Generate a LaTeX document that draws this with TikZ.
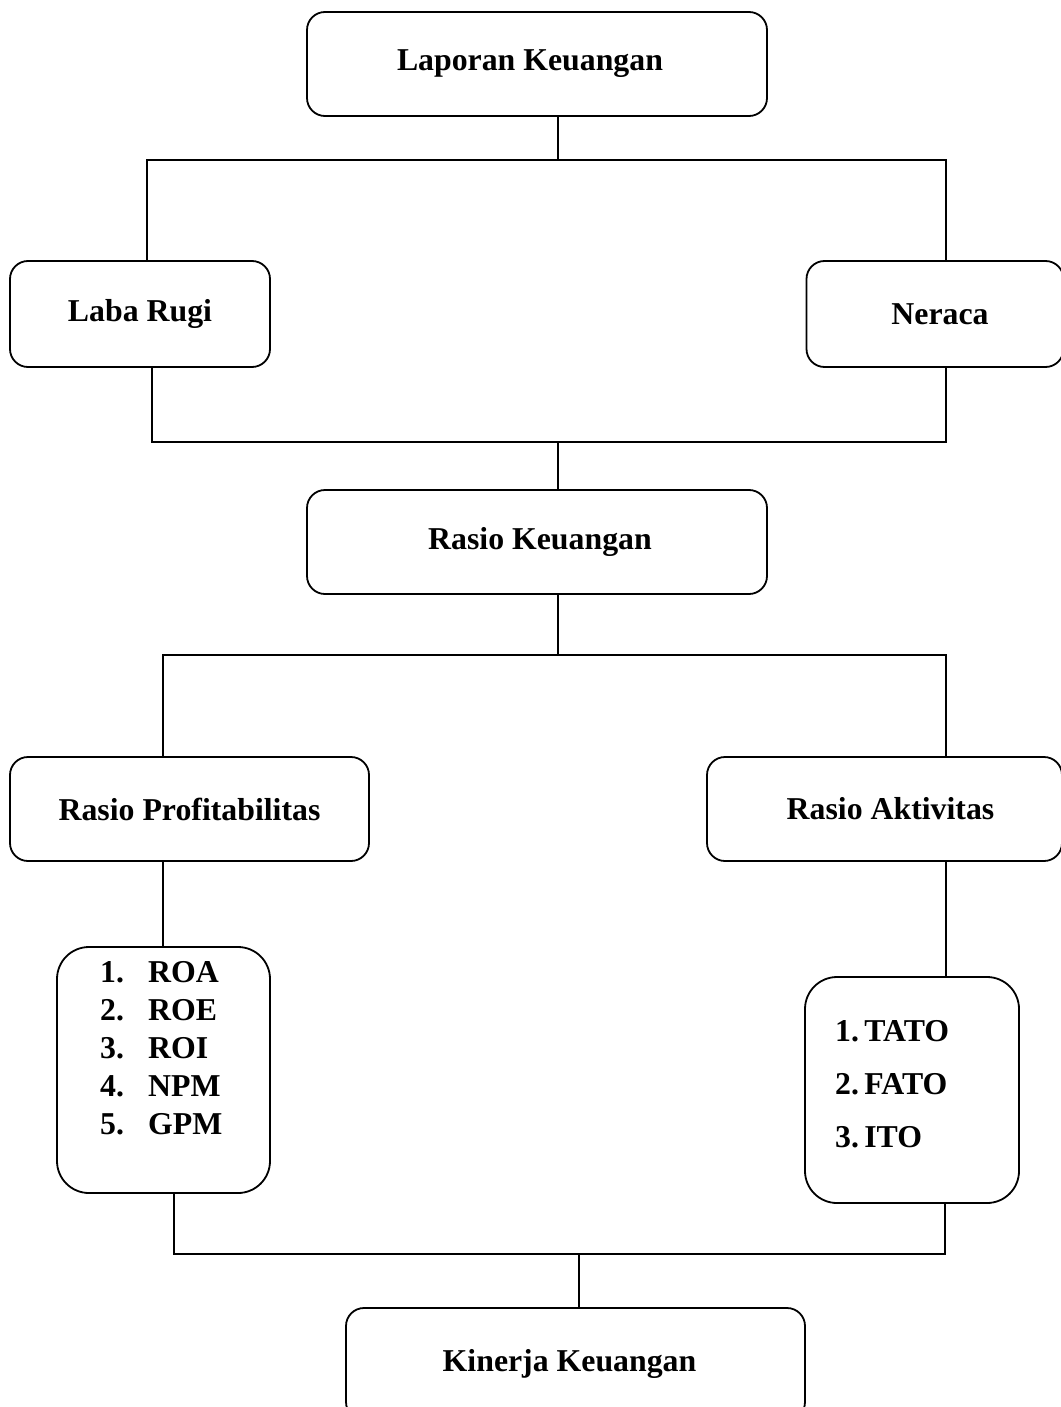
\documentclass[tikz,border=0pt]{standalone}
\usepackage{fontspec}
\setmainfont{Liberation Serif}
\begin{document}
\begin{tikzpicture}[x=1pt,y=1pt,
  box/.style={draw, line width=1.8pt, rounded corners=18pt, inner sep=0pt, align=center,
    font=\bfseries\fontsize{31.8}{38}\selectfont},
  listbox/.style={draw, line width=1.8pt, rounded corners=32pt, inner sep=0pt},
  listtext/.style={anchor=west, align=left, inner sep=0pt, font=\bfseries\fontsize{31.8}{38}\selectfont},
  conn/.style={line width=1.8pt}]
\useasboundingbox (0,0) rectangle (1060,-1407);
\node[box, minimum width=460pt, minimum height=104pt] (lap) at (537,-64) {Laporan Keuangan\hspace*{14pt}};
\node[box, minimum width=260pt, minimum height=106pt] (lr) at (140,-314) {Laba Rugi};
\node[box, minimum width=257pt, minimum height=106pt] (ner) at (935,-314) {\hspace*{10pt}Neraca};
\node[box, minimum width=460pt, minimum height=104pt] (rk) at (537,-542) {\hspace*{6pt}Rasio Keuangan};
\node[box, minimum width=359pt, minimum height=104pt] (rp) at (189.5,-809) {Rasio Profitabilitas};
\node[box, minimum width=355pt, minimum height=104pt] (ra) at (884.5,-809) {\hspace*{12pt}Rasio Aktivitas};
\node[listbox, minimum width=213pt, minimum height=246pt] (roa) at (163.5,-1070) {};
\node[listtext] (roatext) at (100,-1048) {\makebox[48pt][l]{1.}ROA\\\makebox[48pt][l]{2.}ROE\\\makebox[48pt][l]{3.}ROI\\\makebox[48pt][l]{4.}NPM\\\makebox[48pt][l]{5.}GPM};
\node[listbox, minimum width=214pt, minimum height=226pt] (tato) at (912,-1090) {};
\node[listtext, font=\bfseries\fontsize{31.8}{53}\selectfont] (tatotext) at (835,-1084) {1.\,TATO\\2.\,FATO\\3.\,ITO};
\node[box, minimum width=459pt, minimum height=112pt] (kin) at (575.5,-1364) {\raisebox{4pt}{Kinerja Keuangan}\hspace*{12pt}};
% junction coordinates
\coordinate (j1) at (558,-160);
\coordinate (a1) at (147,-160);
\coordinate (a2) at (946,-160);
\coordinate (b1) at (152,-442);
\coordinate (b2) at (946,-442);
\coordinate (b0) at (558,-442);
\coordinate (c0) at (558,-655);
\coordinate (c1) at (163,-655);
\coordinate (c2) at (946,-655);
\coordinate (d1) at (174,-1254);
\coordinate (d2) at (945,-1254);
\coordinate (d0) at (579,-1254);
% connectors
\draw[conn] (lap.south -| j1) -- (j1);
\draw[conn] (lr.north -| a1) -- (a1) -- (a2) -- (ner.north -| a2);
\draw[conn] (lr.south -| b1) -- (b1) -- (b2) -- (ner.south -| b2);
\draw[conn] (b0) -- (rk.north -| b0);
\draw[conn] (rk.south -| c0) -- (c0);
\draw[conn] (rp.north -| c1) -- (c1) -- (c2) -- (ra.north -| c2);
\draw[conn] (rp.south -| c1) -- (roa.north -| c1);
\draw[conn] (ra.south -| c2) -- (tato.north -| c2);
\draw[conn] (roa.south -| d1) -- (d1) -- (d2) -- (tato.south -| d2);
\draw[conn] (d0) -- (kin.north -| d0);
\end{tikzpicture}
\end{document}
